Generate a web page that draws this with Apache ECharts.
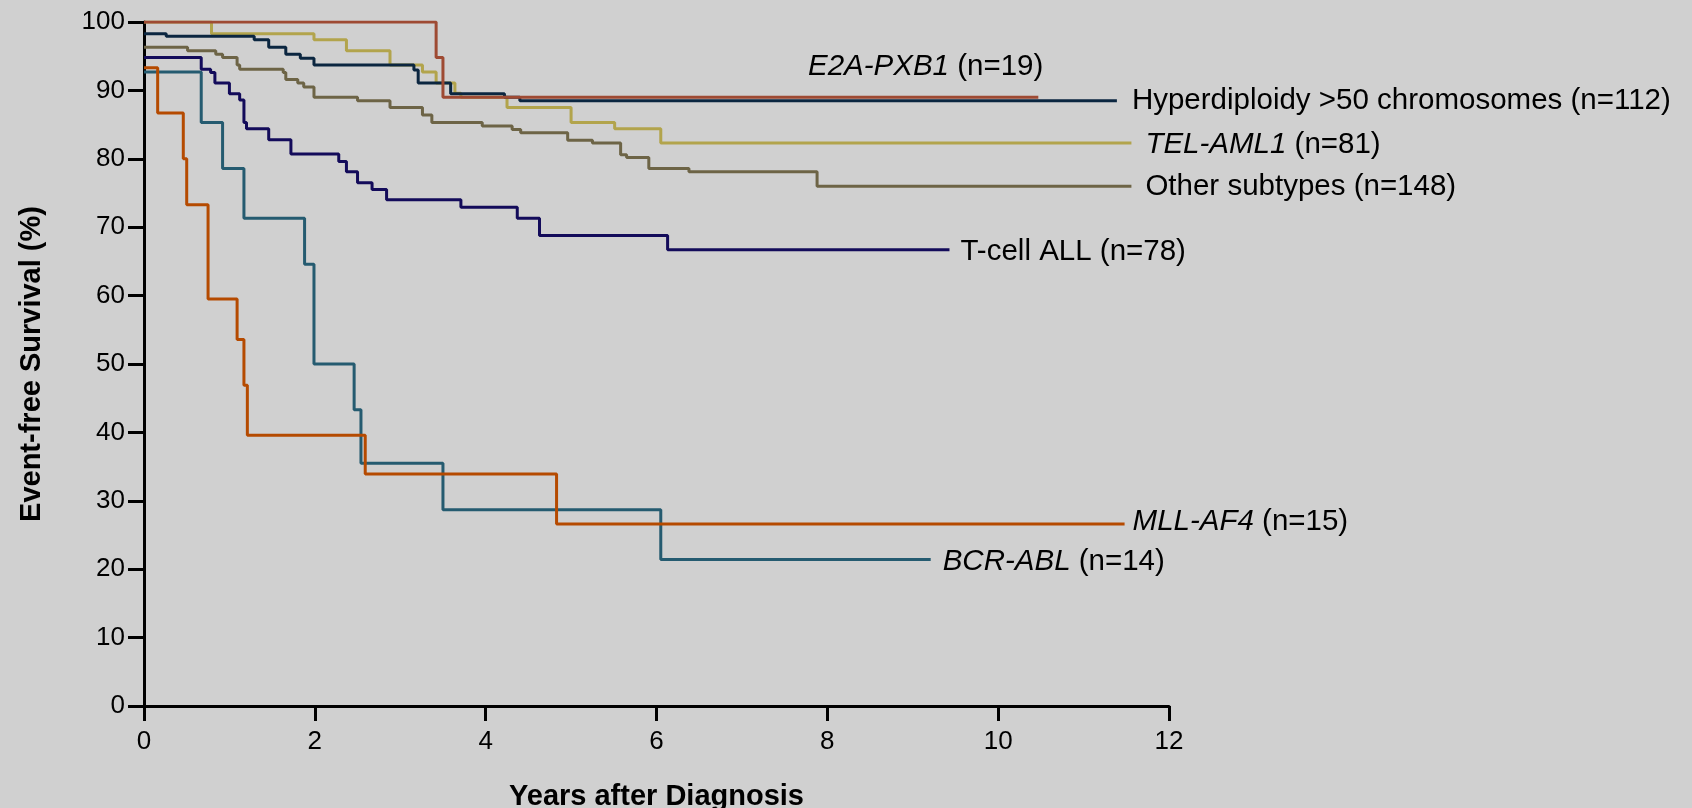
<!DOCTYPE html>
<html>
<head>
<meta charset="utf-8">
<script src="https://cdn.jsdelivr.net/npm/echarts@6/dist/echarts.min.js"></script>
<style>
html,body{margin:0;padding:0;background:#d0d0d0;}
#chart{width:1692px;height:808px;}
</style>
</head>
<body>
<div id="chart"></div>
<script>
// ---- data (years after diagnosis, event-free survival %) ----
const xTickMin = 0, xTickMax = 12, xTickStep = 2;
const yTickMin = 0, yTickMax = 100, yTickStep = 10;

const seriesNames = ['BCR-ABL', 'MLL-AF4', 'T-cell ALL', 'Other subtypes', 'TEL-AML1', 'Hyperdiploidy >50 chromosomes', 'E2A-PXB1'];
const seriesCounts = [14, 15, 78, 148, 81, 112, 19];
const seriesItalic = [true, true, false, false, true, false, true];

const bcrTimes = [0, 0.67, 0.92, 1.17, 1.88, 1.99, 2.46, 2.54, 3.50, 6.05, 9.21];
const bcrSurv  = [92.7, 85.3, 78.6, 71.3, 64.6, 50.0, 43.3, 35.5, 28.7, 21.4, 21.4];

const mllTimes = [0, 0.16, 0.46, 0.50, 0.75, 1.09, 1.17, 1.21, 2.59, 4.83, 11.48];
const mllSurv  = [93.3, 86.7, 80.0, 73.3, 59.5, 53.6, 46.9, 39.6, 33.9, 26.6, 26.6];

const tcellTimes = [0, 0.67, 0.78, 0.83, 1.00, 1.12, 1.17, 1.20, 1.46, 1.72, 2.28, 2.37, 2.50, 2.67, 2.84, 3.71, 4.37, 4.63, 6.13, 9.43];
const tcellSurv  = [94.8, 93.1, 92.6, 91.1, 89.5, 88.6, 85.3, 84.4, 82.8, 80.7, 79.6, 78.1, 76.5, 75.5, 74.0, 72.9, 71.3, 68.8, 66.7, 66.7];

const otherTimes = [0, 0.51, 0.84, 0.92, 1.09, 1.12, 1.63, 1.66, 1.80, 1.87, 1.99, 2.50, 2.88, 3.26, 3.37, 3.96, 4.31, 4.41, 4.96, 5.25, 5.58, 5.65, 5.91, 6.38, 7.88, 11.56];
const otherSurv  = [96.3, 95.8, 95.3, 94.8, 93.7, 93.1, 92.6, 91.6, 91.1, 90.5, 89.0, 88.5, 87.5, 86.4, 85.3, 84.8, 84.3, 83.8, 82.7, 82.3, 80.6, 80.2, 78.6, 78.1, 76.0, 76.0];

const telTimes = [0, 0.79, 1.99, 2.37, 2.88, 3.26, 3.42, 3.64, 3.71, 4.25, 5.00, 5.51, 6.05, 11.56];
const telSurv  = [100, 98.3, 97.4, 95.8, 93.7, 92.7, 91.1, 89.6, 89.0, 87.5, 85.3, 84.4, 82.3, 82.3];

const hyperTimes = [0, 0.26, 1.29, 1.46, 1.66, 1.83, 1.99, 3.16, 3.21, 3.59, 4.22, 4.40, 11.39];
const hyperSurv  = [98.3, 97.9, 97.4, 96.3, 95.3, 94.7, 93.7, 93.0, 91.1, 89.5, 89.0, 88.5, 88.5];

const e2aTimes = [0, 3.42, 3.50, 10.47];
const e2aSurv  = [100, 94.8, 89.0, 89.0];

const allTimes = [bcrTimes, mllTimes, tcellTimes, otherTimes, telTimes, hyperTimes, e2aTimes];
const allSurv  = [bcrSurv, mllSurv, tcellSurv, otherSurv, telSurv, hyperSurv, e2aSurv];

// ---- styles ----
const colors = ['#255b70', '#b54a00', '#130b5a', '#6d6446', '#b2a44c', '#0b2640', '#9e4a33'];
const labelDistance = [12, 8, 11, 14, 14, 15, 5];
const labelOffset = [[0, 2], [0, -2], [0, 2], [0, 1], [0, 2], [0, 0], [0, -30]];
const labelAlign = ['left', 'left', 'left', 'left', 'left', 'left', 'right'];

const FONT = '"Liberation Sans", Arial, sans-serif';
const FS = 29.5;

const series = seriesNames.map((name, i) => {
  const data = allTimes[i].map((t, j) => [t, allSurv[i][j]]);
  const fmt = seriesItalic[i]
    ? '{it|' + name + '} (n=' + seriesCounts[i] + ')'
    : name + ' (n=' + seriesCounts[i] + ')';
  return {
    name: name,
    type: 'line',
    step: 'end',
    data: data,
    showSymbol: false,
    symbol: 'none',
    silent: true,
    animation: false,
    lineStyle: { color: colors[i], width: 3 },
    itemStyle: { color: colors[i] },
    endLabel: {
      show: true,
      formatter: fmt,
      color: '#000',
      fontFamily: FONT,
      fontSize: FS,
      distance: labelDistance[i],
      offset: labelOffset[i],
      align: labelAlign[i],
      verticalAlign: 'middle',
      rich: {
        it: { fontStyle: 'italic', fontFamily: FONT, fontSize: FS, color: '#000' }
      }
    }
  };
});

const chart = echarts.init(document.getElementById('chart'), null, { renderer: 'canvas' });
chart.setOption({
  backgroundColor: '#d0d0d0',
  animation: false,
  grid: { left: 144, right: 523, top: 22, bottom: 102, containLabel: false, outerBoundsMode: 'none' },
  xAxis: {
    type: 'value',
    min: xTickMin, max: xTickMax, interval: xTickStep,
    name: 'Years after Diagnosis',
    nameLocation: 'middle',
    nameGap: 76,
    nameTextStyle: { fontFamily: FONT, fontSize: 29, fontWeight: 'bold', color: '#000' },
    axisLine: { show: true, lineStyle: { color: '#000', width: 3 } },
    axisTick: { show: true, inside: false, length: 15, lineStyle: { color: '#000', width: 3 } },
    axisLabel: { margin: 23, fontFamily: FONT, fontSize: 26, color: '#000' },
    splitLine: { show: false }
  },
  yAxis: {
    type: 'value',
    min: yTickMin, max: yTickMax, interval: yTickStep,
    name: 'Event-free Survival (%)',
    nameLocation: 'middle',
    nameRotate: 90,
    nameGap: 98,
    nameTextStyle: { fontFamily: FONT, fontSize: 29, fontWeight: 'bold', color: '#000' },
    axisLine: { show: true, lineStyle: { color: '#000', width: 3 } },
    axisTick: { show: true, inside: false, length: 16, lineStyle: { color: '#000', width: 3 } },
    axisLabel: { margin: 19, fontFamily: FONT, fontSize: 26, color: '#000' },
    splitLine: { show: false }
  },
  series: series
});
</script>
</body>
</html>
